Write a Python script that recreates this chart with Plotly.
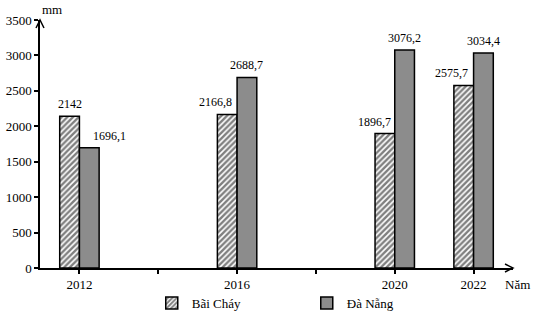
import plotly.graph_objects as go

years = [2012, 2016, 2020, 2022]
bai_chay = [2142, 2166.8, 1896.7, 2575.7]
da_nang = [1696.1, 2688.7, 3076.2, 3034.4]
bai_chay_labels = ["2142", "2166,8", "1896,7", "2575,7"]
da_nang_labels = ["1696,1", "2688,7", "3076,2", "3034,4"]
y_ticks = [0, 500, 1000, 1500, 2000, 2500, 3000, 3500]
x_tick_vals = [2012, 2014, 2016, 2018, 2020, 2022]
x_tick_text = ["2012", "", "2016", "", "2020", "2022"]

# label horizontal nudges (px) to mimic the reference placement
bc_shift = [0, -12, -10, -12]
dn_shift = [20, 0, 0, 0]

FONT = "Liberation Serif"
fig = go.Figure()
fig.add_trace(go.Bar(
    x=years, y=bai_chay, name="Bãi Cháy", width=0.5, offset=-0.5,
    marker=dict(color="white", line=dict(color="black", width=1.5),
                pattern=dict(shape="/", fgcolor="black", bgcolor="white", size=4, solidity=0.6)),
))
fig.add_trace(go.Bar(
    x=years, y=da_nang, name="Đà Nẵng", width=0.5, offset=0,
    marker=dict(color="#8c8c8c", line=dict(color="black", width=1.5)),
))

for yr, v, t, s in zip(years, bai_chay, bai_chay_labels, bc_shift):
    fig.add_annotation(x=yr - 0.25, y=v, text=t, showarrow=False, yanchor="bottom",
                       yshift=3, xshift=s, font=dict(family=FONT, size=12, color="black"))
for yr, v, t, s in zip(years, da_nang, da_nang_labels, dn_shift):
    fig.add_annotation(x=yr + 0.25, y=v, text=t, showarrow=False, yanchor="bottom",
                       yshift=3, xshift=s, font=dict(family=FONT, size=12, color="black"))

fig.add_annotation(x=0, y=1, xref="paper", yref="paper", text="mm", showarrow=False,
                   yanchor="bottom", yshift=1, font=dict(family=FONT, size=13, color="black"))
fig.add_annotation(x=1, y=0, xref="paper", yref="paper", text="Năm", showarrow=False,
                   xanchor="center", xshift=4, yanchor="middle", yshift=-16,
                   font=dict(family=FONT, size=13, color="black"))

# arrowheads at axis ends
fig.add_shape(type="path", xref="paper", yref="paper", xsizemode="pixel", ysizemode="pixel",
              xanchor=0, yanchor=1, path="M-4,-8 L0,0 L4,-8", line=dict(color="black", width=1.5))
fig.add_shape(type="path", xref="paper", yref="paper", xsizemode="pixel", ysizemode="pixel",
              xanchor=1, yanchor=0, path="M-8,-4 L0,0 L-8,4", line=dict(color="black", width=1.5))

fig.update_layout(
    width=534, height=317, margin=dict(l=40, r=21, t=20, b=49, autoexpand=False),
    plot_bgcolor="white", paper_bgcolor="white",
    font=dict(family=FONT, size=13, color="black"),
    barmode="overlay", showlegend=True,
    legend=dict(orientation="h", x=0.564, xanchor="center", xref="paper",
                y=0.044, yanchor="middle", yref="container", bgcolor="rgba(0,0,0,0)",
                font=dict(family=FONT, size=13), entrywidth=110, entrywidthmode="pixels"),
    xaxis=dict(range=[2011, 2023], tickvals=x_tick_vals, ticktext=x_tick_text,
               showline=True, linecolor="black", linewidth=1.5, ticks="outside",
               ticklen=4, tickcolor="black", tickwidth=1.5, showgrid=False, zeroline=False,
               automargin=False),
    yaxis=dict(range=[0, 3500], tickvals=y_ticks, showline=True, linecolor="black",
               linewidth=1.5, ticks="outside", ticklen=4, tickcolor="black", tickwidth=1.5,
               showgrid=False, zeroline=False, automargin=False),
)
fig.write_html("out.html")
